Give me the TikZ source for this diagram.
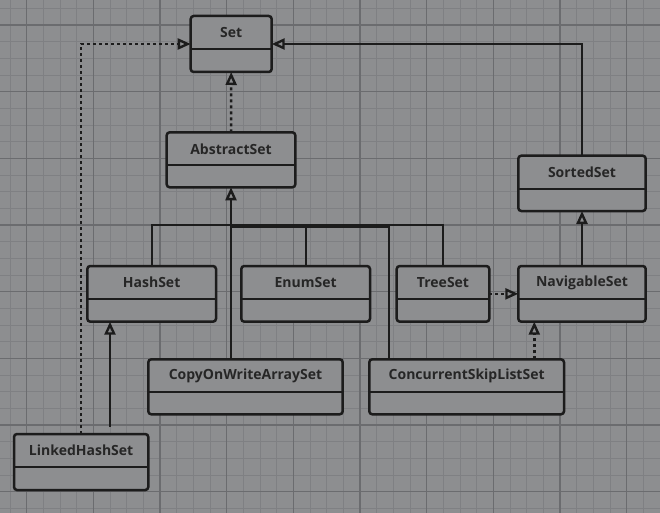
\documentclass[tikz,border=0pt]{standalone}
\usepackage{fontspec}
\setmainfont{Open Sans}
\usetikzlibrary{arrows.meta,calc}
\definecolor{bgc}{HTML}{8D8E90}
\definecolor{minorc}{HTML}{7F8083}
\definecolor{majorc}{HTML}{6B6C6F}
\definecolor{inkc}{HTML}{1C1C1C}
\definecolor{txtc}{HTML}{262626}
\tikzset{
  umlbox/.style={draw=inkc, line width=2.5pt, rounded corners=3pt, fill=bgc, inner sep=0pt, outer sep=0pt},
  umltext/.style={text=txtc, font=\bfseries\fontsize{14}{16}\selectfont, inner sep=0pt},
  divline/.style={draw=inkc, line width=2.2pt},
  conn/.style={draw=inkc, line width=2.2pt},
  dotconn/.style={draw=inkc, line width=2.5pt, dash pattern=on 3pt off 3pt},
  tri/.tip={Triangle[open, length=13pt, width=11pt, line width=2.4pt]},
}
\newcommand\umlbox[6]{%
  \node[umlbox, minimum width={#4-#2}, minimum height={#5-#3}] (#1) at ({(#2+#4)/2},{(#3+#5)/2}) {};
  \draw[divline] ([yshift=-33pt,xshift=1pt]#1.north west) -- ([yshift=-33pt,xshift=-1pt]#1.north east);
  \node[umltext] (#1-t) at ([yshift=-16.5pt]#1.north) {#6};
}
\begin{document}
\begin{tikzpicture}[x=1pt,y=-1pt]
\fill[bgc] (0,0) rectangle (660,513);
\useasboundingbox (0,0) rectangle (660,513);
% grid
\foreach \i in {0,...,39} { \draw[minorc, line width=0.9pt] ({10+16.667*\i},0) -- ({10+16.667*\i},513); }
\foreach \i in {0,...,30} { \draw[minorc, line width=0.9pt] (0,{8.333+16.667*\i}) -- (660,{8.333+16.667*\i}); }
\foreach \i in {0,...,9} { \draw[majorc, line width=1.2pt] ({26.667+66.667*\i},0) -- ({26.667+66.667*\i},513); }
\foreach \i in {0,...,7} { \draw[majorc, line width=1.2pt] (0,{25+66.667*\i}) -- (660,{25+66.667*\i}); }

% boxes
\umlbox{set}{190.7}{16}{271.7}{72}{Set}
\umlbox{as}{166.7}{132.3}{295.3}{187.3}{AbstractSet}
\umlbox{ss}{518.3}{155.7}{645.7}{211}{SortedSet}
\umlbox{hs}{87.3}{266}{216}{321.7}{HashSet}
\umlbox{es}{241.3}{266}{370}{321.7}{EnumSet}
\umlbox{ts}{396.7}{266}{489.3}{321.7}{TreeSet}
\umlbox{ns}{518.3}{266}{645.7}{321.7}{NavigableSet}
\umlbox{cow}{148.3}{359.3}{342.7}{414.3}{CopyOnWriteArraySet}
\umlbox{csl}{369.3}{359.3}{564}{414.3}{ConcurrentSkipListSet}
\umlbox{lhs}{14}{434}{148.3}{490}{LinkedHashSet}

% connectors
\coordinate (lhsA) at ([xshift=67pt]lhs.north west);
\draw[dotconn, -{tri}] (lhsA) |- (set.west);
\coordinate (lhsB) at ([xshift=96pt,yshift=7pt]lhs.north west);
\draw[conn, -{tri}] (lhsB) -- (lhsB |- hs.south);
\draw[dotconn, -{tri}] (as.north) -- (set.south);
\draw[conn, -{tri}] (ss.north) |- (set.east);
\draw[conn, -{tri}] (ns.north) -- (ss.south);
\draw[dotconn, -{tri}] (ts.east) -- (ns.west);
\coordinate (cslA) at ([xshift=165pt]csl.north west);
\draw[dotconn, -{tri}] (cslA) -- (cslA |- ns.south);

% bus to AbstractSet
\coordinate (bus) at (231,225);
\coordinate (cowA) at ([xshift=82.4pt]cow.north west);
\coordinate (cslB) at ([xshift=20pt]csl.north west);
\draw[conn] (hs.north) |- (bus);
\draw[conn] (es.north) |- (bus);
\draw[conn] (ts.north) |- (bus);
\draw[conn] (cowA) |- (bus);
\draw[conn] (cslB) |- ([yshift=-1.5pt]bus);
\draw[conn, -{tri}] (bus) -- (as.south);
\end{tikzpicture}
\end{document}
